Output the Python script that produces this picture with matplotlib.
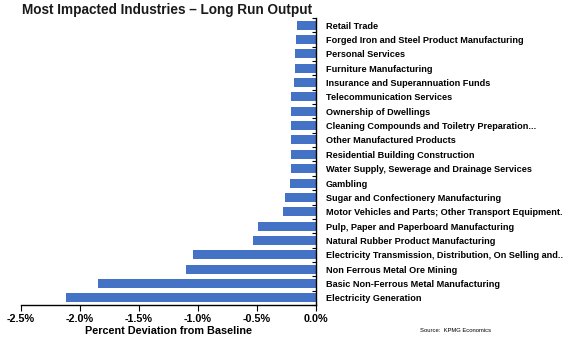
import matplotlib
matplotlib.use("Agg")
import matplotlib.pyplot as plt
import numpy as np

industries = [
    "Retail Trade",
    "Forged Iron and Steel Product Manufacturing",
    "Personal Services",
    "Furniture Manufacturing",
    "Insurance and Superannuation Funds",
    "Telecommunication Services",
    "Ownership of Dwellings",
    "Cleaning Compounds and Toiletry Preparation...",
    "Other Manufactured Products",
    "Residential Building Construction",
    "Water Supply, Sewerage and Drainage Services",
    "Gambling",
    "Sugar and Confectionery Manufacturing",
    "Motor Vehicles and Parts; Other Transport Equipment.",
    "Pulp, Paper and Paperboard Manufacturing",
    "Natural Rubber Product Manufacturing",
    "Electricity Transmission, Distribution, On Selling and..",
    "Non Ferrous Metal Ore Mining",
    "Basic Non-Ferrous Metal Manufacturing",
    "Electricity Generation",
]
deviation = [-0.16, -0.17, -0.18, -0.18, -0.19, -0.21, -0.21, -0.21, -0.21, -0.21,
             -0.21, -0.22, -0.265, -0.28, -0.49, -0.53, -1.04, -1.10, -1.85, -2.12]
xticks = [-2.5, -2.0, -1.5, -1.0, -0.5, 0.0]

plt.rcParams['font.family'] = ['Liberation Sans', 'DejaVu Sans']

fig = plt.figure(figsize=(5.73, 3.44), dpi=100)
ax = fig.add_axes([21 / 573, 1 - 305 / 344, 295 / 573, 287 / 344])

y = np.arange(len(industries))
ax.barh(y, deviation, height=0.63, color="#4472C4")
ax.set_ylim(len(industries) - 0.5, -0.5)
ax.set_xlim(-2.5, 0.0)

# category labels sit to the right of the zero line
ax.yaxis.tick_right()
ax.set_yticks(y)
ax.set_yticklabels(industries, fontsize=6.6, fontweight="bold")
ax.tick_params(axis="y", which="major", length=0, pad=7)
ax.set_yticks(np.arange(-0.5, len(industries)), minor=True)
ax.tick_params(axis="y", which="minor", direction="in", length=3, width=0.8)

ax.set_xticks(xticks)
ax.set_xticklabels([f"{t:.1f}%" for t in xticks], fontsize=7.8, fontweight="bold")
ax.tick_params(axis="x", direction="out", length=4, width=0.8, pad=2.5)
ax.set_xlabel("Percent Deviation from Baseline", fontsize=7.8, fontweight="bold", labelpad=1.5)

for side in ["left", "top"]:
    ax.spines[side].set_visible(False)
ax.spines["right"].set_linewidth(1.0)
ax.spines["bottom"].set_linewidth(1.0)

fig.text(22 / 573, 1 - 10 / 344, "Most Impacted Industries \u2013 Long Run Output",
         fontsize=9.8, fontweight="bold", color="#1a1a1a", va="center", ha="left")
fig.text(420 / 573, 1 - 330 / 344, "Source:  KPMG Economics", fontsize=4.2,
         va="center", ha="left")

fig.savefig("out.png", dpi=100)
